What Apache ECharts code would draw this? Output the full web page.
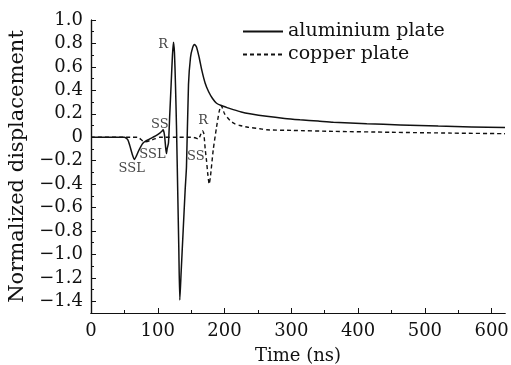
<!DOCTYPE html>
<html>
<head>
<meta charset="utf-8">
<script src="https://cdn.jsdelivr.net/npm/echarts@6/dist/echarts.min.js"></script>
<style>
  html, body { margin: 0; padding: 0; background: #fff; }
  #chart { width: 511px; height: 365px; }
</style>
</head>
<body>
<div id="chart"></div>
<script>
// aluminium plate (solid)
const alTime = [0, 50, 55, 58, 62, 65, 68, 71, 74, 78, 83, 88, 93, 98, 103, 106, 108, 110, 112, 113, 114, 116, 118, 120, 122, 123.5, 125, 126.5, 128, 130, 131.5, 133, 135, 138, 141, 143, 146, 149, 152, 155, 158, 162, 166, 171, 176, 182, 188, 195, 205, 213, 225, 238, 263, 290, 313, 340, 363, 413, 463, 520, 570, 620];
const alDisp = [0, 0, -0.02, -0.07, -0.15, -0.19, -0.16, -0.12, -0.086, -0.05, -0.03, -0.015, 0, 0.015, 0.035, 0.05, 0.063, 0.02, -0.1, -0.14, -0.1, -0.05, 0.2, 0.45, 0.7, 0.81, 0.72, 0.45, 0.1, -0.5, -0.95, -1.39, -1.15, -0.8, -0.45, -0.25, 0.45, 0.68, 0.76, 0.79, 0.77, 0.68, 0.57, 0.46, 0.39, 0.33, 0.29, 0.27, 0.25, 0.235, 0.215, 0.2, 0.178, 0.16, 0.149, 0.138, 0.128, 0.115, 0.105, 0.095, 0.088, 0.082];

// copper plate (dashed)
const cuTime = [0, 70, 75, 80, 88, 95, 103, 110, 130, 150, 156, 161, 164, 167, 169, 171, 173, 175, 177, 179, 183, 188, 192, 195, 200, 208, 215, 223, 235, 253, 263, 300, 362, 450, 540, 620];
const cuDisp = [0, 0, -0.02, -0.04, -0.03, -0.015, 0, 0, 0, 0, -0.005, -0.015, 0.02, 0.055, 0.03, -0.1, -0.2, -0.32, -0.4, -0.33, -0.11, 0.086, 0.22, 0.27, 0.2, 0.143, 0.115, 0.1, 0.085, 0.072, 0.063, 0.058, 0.05, 0.042, 0.035, 0.03];

// wave labels
const noteText = ["SSL", "SSL", "SS", "R", "R", "SS"];
const noteTime = [61, 92, 103, 108, 168, 157];
const noteDisp = [-0.27, -0.15, 0.11, 0.79, 0.14, -0.165];

const xMajor = [0, 100, 200, 300, 400, 500, 600];
const xMinor = [50, 150, 250, 350, 450, 550];
const yMajor = [-1.4, -1.2, -1.0, -0.8, -0.6, -0.4, -0.2, 0, 0.2, 0.4, 0.6, 0.8, 1.0];
const yMinor = [-1.5, -1.3, -1.1, -0.9, -0.7, -0.5, -0.3, -0.1, 0.1, 0.3, 0.5, 0.7, 0.9];

const font = "DejaVu Serif";
const ink = "#111";

const zip = (a, b) => a.map((t, i) => [t, b[i]]);
const fmtY = (v) => {
  if (Math.abs(v) < 1e-9) return "0";
  return v.toFixed(1).replace("-", "\u2212");
};

const chart = echarts.init(document.getElementById("chart"));

const baseX = {
  type: "value",
  min: 0,
  max: 620,
  splitLine: { show: false },
  axisLine: { onZero: false, lineStyle: { color: ink, width: 1.2 } },
};
const baseY = {
  type: "value",
  min: -1.5,
  max: 1.0,
  splitLine: { show: false },
  axisLine: { onZero: false, lineStyle: { color: ink, width: 1.2 } },
};

const option = {
  animation: false,
  grid: { left: 91, right: 6, top: 20, bottom: 52, outerBoundsMode: "none" },
  legend: {
    orient: "vertical",
    left: 237,
    top: 17,
    itemWidth: 40,
    itemHeight: 14,
    itemGap: 4,
    itemStyle: { opacity: 0 },
    textStyle: { fontFamily: font, fontSize: 19, color: ink },
    data: ["aluminium plate", "copper plate"],
  },
  xAxis: [
    {
      ...baseX,
      name: "Time (ns)",
      nameLocation: "middle",
      nameGap: 34,
      nameTextStyle: { fontFamily: font, fontSize: 18, color: ink },
      axisTick: { inside: true, length: 5, customValues: xMajor, lineStyle: { color: ink } },
      axisLabel: { customValues: xMajor, margin: 9, fontFamily: font, fontSize: 18, color: ink },
    },
    {
      ...baseX,
      position: "bottom",
      axisTick: { inside: true, length: 3, customValues: xMinor, lineStyle: { color: ink } },
      axisLabel: { show: false },
    },
  ],
  yAxis: [
    {
      ...baseY,
      name: "Normalized displacement",
      nameLocation: "middle",
      nameGap: 61,
      nameTextStyle: { fontFamily: font, fontSize: 21, color: ink },
      axisTick: { inside: true, length: 5, customValues: yMajor, lineStyle: { color: ink } },
      axisLabel: { customValues: yMajor, margin: 8, fontFamily: font, fontSize: 18, color: ink, formatter: fmtY },
    },
    {
      ...baseY,
      position: "left",
      axisTick: { inside: true, length: 3, customValues: yMinor, lineStyle: { color: ink } },
      axisLabel: { show: false },
    },
  ],
  series: [
    {
      name: "aluminium plate",
      type: "line",
      data: zip(alTime, alDisp),
      symbol: "none",
      smooth: 0.2,
      lineStyle: { color: ink, width: 1.5, type: "solid" },
      itemStyle: { color: ink },
      z: 3,
    },
    {
      name: "copper plate",
      type: "line",
      data: zip(cuTime, cuDisp),
      symbol: "none",
      smooth: 0.2,
      lineStyle: { color: ink, width: 1.4, type: [4, 3] },
      itemStyle: { color: ink },
      z: 2,
    },
    {
      type: "scatter",
      data: noteTime.map((t, i) => ({ value: [t, noteDisp[i]], name: noteText[i] })),
      symbolSize: 0,
      silent: true,
      label: {
        show: true,
        position: "inside",
        formatter: (p) => p.name,
        fontFamily: font,
        fontSize: 13,
        color: ink,
      },
    },
  ],
};

chart.setOption(option);
</script>
</body>
</html>
